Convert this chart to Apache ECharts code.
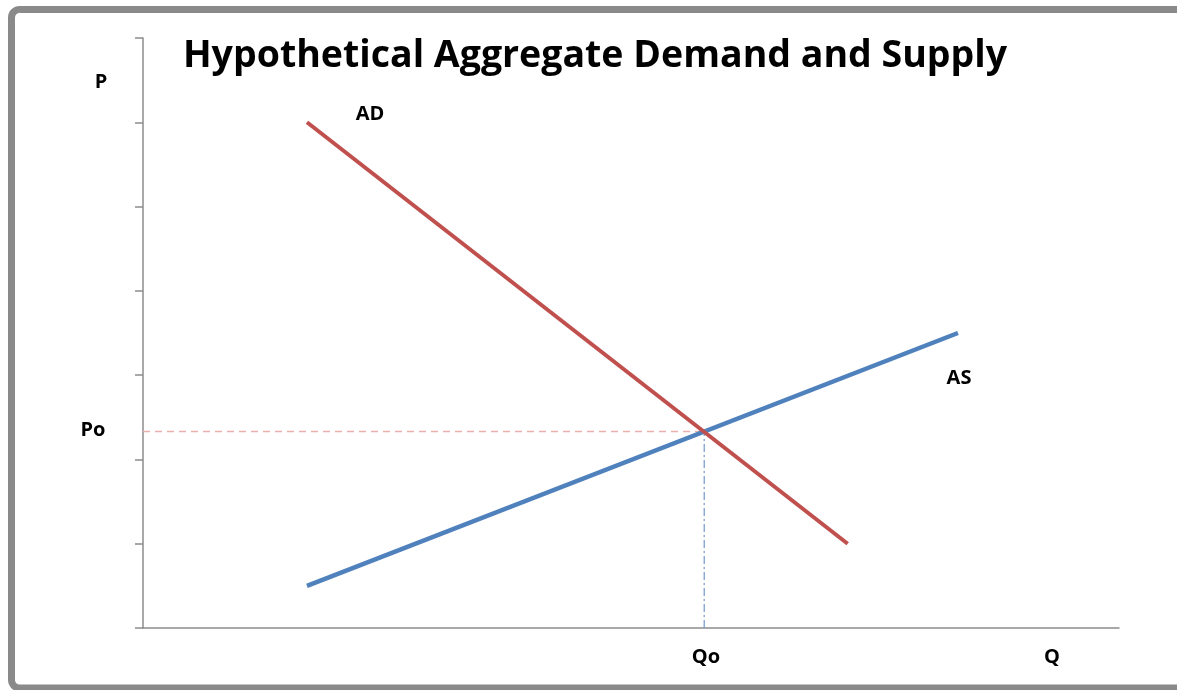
<!DOCTYPE html>
<html>
<head>
    <meta charset="utf-8">
    <script src="https://cdn.jsdelivr.net/npm/echarts@6/dist/echarts.min.js"></script>
</head>
<body style="margin: 0; background: #fff">
    <div id="chart" style="width: 1177px; height: 690px"></div>
    <script>
        // curve end points (x = quantity, y = price)
        var adPoints = [[1.68, 6.0], [7.22, 1.0]];
        var asPoints = [[1.68, 0.5], [8.35, 3.5]];
        var equilibrium = [5.75, 2.33];
        var yTicks = [0, 1, 2, 3, 4, 5, 6, 7];

        var dom = document.getElementById('chart');
        var myChart = echarts.init(dom, null, { renderer: 'canvas' });

        var labelFont = 'bold 20px "Open Sans", sans-serif';
        var txt = function (x, y, s) {
            return {
                type: 'text', x: x, y: y,
                style: { text: s, font: labelFont, fill: '#000', align: 'center', verticalAlign: 'middle' }
            };
        };

        var option = {
            animation: false,
            backgroundColor: '#fff',
            grid: { left: 143, right: 58, top: 38, bottom: 62 },
            xAxis: {
                type: 'value', min: 0, max: 10,
                axisLine: { show: true, lineStyle: { color: '#8c8c8c', width: 1.5 } },
                axisTick: { show: false },
                axisLabel: { show: false },
                splitLine: { show: false }
            },
            yAxis: {
                type: 'value', min: yTicks[0], max: yTicks[yTicks.length - 1], interval: 1,
                axisLine: { show: true, lineStyle: { color: '#8c8c8c', width: 1.5 } },
                axisTick: { show: true, length: 8, lineStyle: { color: '#8c8c8c', width: 1.5 } },
                axisLabel: { show: false },
                splitLine: { show: false }
            },
            series: [
                {
                    name: 'AD', type: 'line', data: adPoints, showSymbol: false,
                    lineStyle: { color: '#C0504D', width: 4 }, z: 3
                },
                {
                    name: 'AS', type: 'line', data: asPoints, showSymbol: false,
                    lineStyle: { color: '#4F81BD', width: 4.5 }, z: 2
                },
                {
                    name: 'Po', type: 'line', showSymbol: false,
                    data: [[0, equilibrium[1]], equilibrium],
                    lineStyle: { color: '#EBAFAD', width: 1.5, type: [7, 5] }, z: 1
                },
                {
                    name: 'Qo', type: 'line', showSymbol: false,
                    data: [[equilibrium[0], 0], equilibrium],
                    lineStyle: { color: '#6F97CE', width: 1.2, type: [8, 3, 2, 3] }, z: 1
                }
            ],
            graphic: [
                {
                    type: 'rect', silent: true,
                    shape: { x: 11.5, y: 9.5, width: 1200, height: 678.5, r: 8 },
                    style: { fill: 'none', stroke: '#8a8a8a', lineWidth: 7 }
                },
                {
                    type: 'text', x: 595, y: 56,
                    style: {
                        text: 'Hypothetical Aggregate Demand and Supply',
                        font: 'bold 37.5px "Open Sans", sans-serif', fill: '#000',
                        align: 'center', verticalAlign: 'middle'
                    }
                },
                txt(101, 82, 'P'),
                txt(93, 430, 'Po'),
                txt(706, 657, 'Qo'),
                txt(1052, 657, 'Q'),
                txt(370, 114, 'AD'),
                txt(959, 378, 'AS')
            ]
        };
        myChart.setOption(option);
        window.addEventListener('resize', myChart.resize);
    </script>
</body>
</html>
